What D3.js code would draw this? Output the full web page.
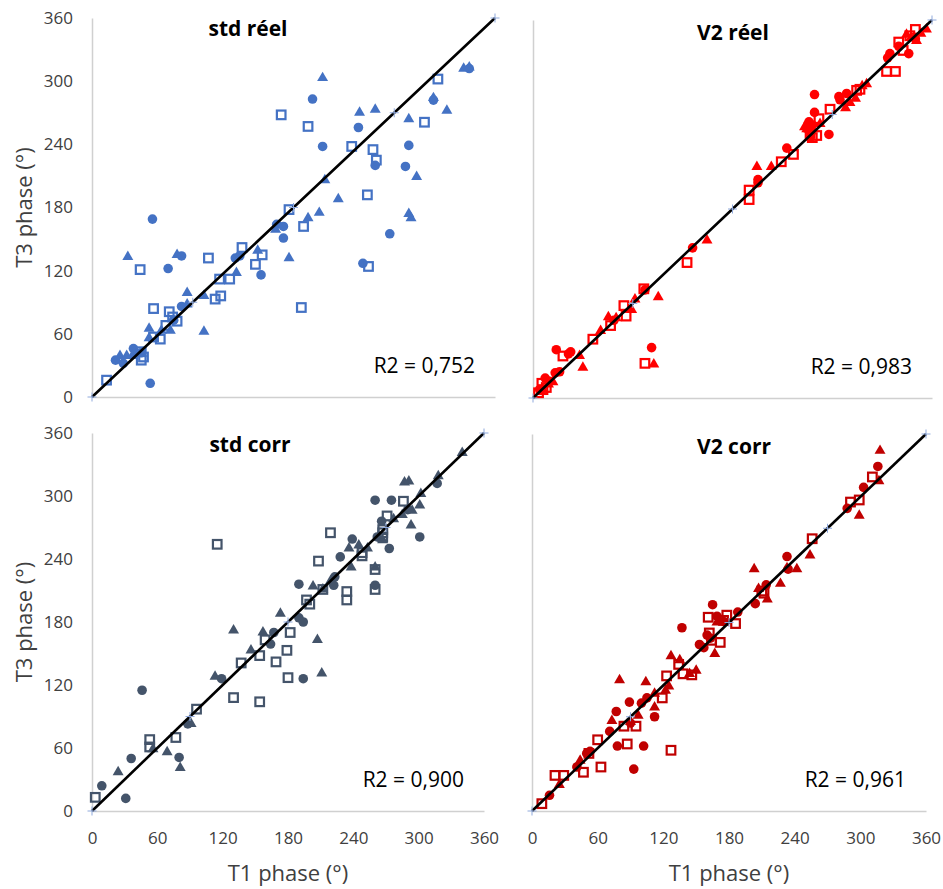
<!DOCTYPE html>
<html>
<head>
<meta charset="utf-8">
<script src="https://cdn.jsdelivr.net/npm/d3@7"></script>
<style>
  html, body { margin: 0; padding: 0; background: #ffffff; }
  svg { display: block; font-family: "Open Sans", "Liberation Sans", sans-serif; }
</style>
</head>
<body>
<svg id="chart" width="943" height="889"></svg>
<script>
// ---------------- DATA ----------------
const tickValues = [0, 60, 120, 180, 240, 300, 360];
const identityPoints = [0, 90, 180, 270, 360];
const panelTitles = ["std réel", "V2 réel", "std corr", "V2 corr"];
const r2Labels = ["R2 = 0,752", "R2 = 0,983", "R2 = 0,900", "R2 = 0,961"];
const xAxisTitle = "T1 phase (°)";
const yAxisTitle = "T3 phase (°)";

// std réel : [T1, T3]
const stdReelCircles = [[337,312],[197,283],[238,256],[206,238],[283,239],[305,282],[253,220],[280,219],[266,155],[242,127],[54,169],[68,122],[80,134],[165,164],[171,162],[171,151],[151,116],[128,132],[132,134],[80,86],[37,46],[21,35],[28,32],[44,42],[52,13],[73,73]];
const stdReelTriangles = [[332,313],[337,314],[206,304],[239,271],[253,274],[283,265],[317,273],[305,285],[290,210],[208,207],[220,189],[193,171],[203,176],[283,175],[285,171],[176,133],[164,160],[148,140],[32,134],[76,136],[129,119],[85,100],[100,97],[100,63],[85,89],[51,66],[70,64],[51,57],[25,40],[31,40],[62,64],[36,40],[40,43]];
const stdReelSquares = [[309,302],[169,268],[193,257],[297,261],[232,238],[251,235],[254,225],[246,192],[176,178],[189,162],[187,85],[247,124],[134,142],[152,135],[146,126],[104,132],[43,121],[114,112],[123,112],[110,93],[115,96],[55,84],[69,81],[76,72],[66,68],[61,55],[55,57],[44,35],[44,43],[13,16],[46,38],[72,76]];

// V2 réel
const v2ReelCircles = [[254,289],[276,287],[283,290],[254,272],[249,263],[267,251],[250,248],[229,238],[203,208],[144,143],[101,103],[107,48],[21,46],[34,44],[20,24],[11,19],[6,8],[320,324],[339,328],[322,328],[73,74],[277,284],[249,255],[252,260],[330,335],[345,342],[203,205],[32,42],[24,25],[15,16]];
const v2ReelTriangles = [[355,352],[337,347],[346,341],[301,300],[282,277],[291,286],[247,257],[259,262],[202,221],[215,221],[157,151],[113,97],[92,95],[89,85],[68,78],[61,65],[42,41],[45,30],[109,33],[14,14],[350,348],[341,344],[297,298],[286,282],[245,259],[75,77],[9,9],[18,16]];
const v2ReelSquares = [[345,351],[330,339],[319,311],[327,311],[295,294],[292,293],[268,275],[258,266],[249,258],[256,250],[235,232],[224,225],[195,198],[195,189],[139,129],[100,104],[82,88],[84,78],[70,69],[54,56],[27,40],[101,33],[8,14],[9,8],[334,331],[340,345],[250,252],[252,248],[5,5],[12,10]];

// std corr
const stdCorrCircles = [[317,312],[260,296],[275,296],[301,261],[273,250],[239,259],[266,276],[228,242],[190,216],[222,215],[223,223],[194,126],[260,215],[190,184],[194,180],[167,170],[164,159],[119,126],[46,115],[36,50],[80,51],[88,83],[9,24],[31,12],[290,287],[262,261]];
const stdCorrTriangles = [[340,342],[318,320],[287,314],[291,315],[302,303],[301,292],[293,273],[294,287],[236,251],[245,254],[253,251],[238,233],[260,233],[203,215],[219,220],[212,212],[173,189],[157,171],[130,173],[146,154],[207,164],[211,132],[113,129],[91,84],[69,57],[56,60],[24,38],[81,42],[277,279],[285,283],[267,259]];
const stdCorrSquares = [[286,295],[271,281],[267,268],[267,261],[219,265],[248,243],[208,238],[260,230],[260,211],[234,209],[234,201],[212,211],[197,201],[200,197],[182,170],[179,153],[159,163],[154,148],[169,142],[180,127],[137,141],[130,108],[154,104],[115,254],[96,97],[77,70],[53,68],[53,61],[3,13],[267,265],[248,246]];

// V2 corr
const v2CorrCircles = [[316,329],[303,309],[288,289],[233,243],[234,231],[204,198],[214,216],[165,197],[188,190],[169,186],[137,175],[153,159],[157,156],[163,165],[89,104],[105,108],[100,103],[112,90],[77,95],[71,76],[78,62],[102,62],[93,40],[50,55],[53,57],[16,15],[41,42],[90,84],[175,181],[160,168]];
const v2CorrTriangles = [[318,345],[317,316],[299,283],[254,245],[203,232],[242,232],[227,218],[215,203],[207,213],[233,233],[167,151],[169,181],[127,149],[135,145],[150,135],[144,132],[80,126],[104,124],[125,120],[112,100],[112,113],[97,92],[73,87],[44,49],[25,26],[122,116],[90,86]];
const v2CorrSquares = [[311,319],[291,295],[299,297],[256,260],[210,210],[161,185],[178,187],[186,179],[172,161],[164,163],[162,170],[138,131],[146,130],[134,140],[123,129],[119,108],[95,81],[84,81],[60,68],[87,64],[127,58],[63,42],[47,37],[52,55],[21,34],[29,34],[9,7],[175,182],[212,208]];

// ---------------- LAYOUT ----------------
const panels = [
  {title: panelTitles[0], r2: r2Labels[0], color: "#4472C4", circles: stdReelCircles, triangles: stdReelTriangles, squares: stdReelSquares,
   x0: 92, x1: 495, y0: 397, y1: 18, showXLabels: false, showYLabels: true, titleX: 248, titleY: 36},
  {title: panelTitles[1], r2: r2Labels[1], color: "#FF0000", circles: v2ReelCircles, triangles: v2ReelTriangles, squares: v2ReelSquares,
   x0: 533, x1: 932, y0: 398, y1: 20, showXLabels: false, showYLabels: false, titleX: 733, titleY: 40},
  {title: panelTitles[2], r2: r2Labels[2], color: "#44546A", circles: stdCorrCircles, triangles: stdCorrTriangles, squares: stdCorrSquares,
   x0: 92, x1: 484, y0: 811, y1: 433, showXLabels: true, showYLabels: true, titleX: 250, titleY: 452},
  {title: panelTitles[3], r2: r2Labels[3], color: "#C00000", circles: v2CorrCircles, triangles: v2CorrTriangles, squares: v2CorrSquares,
   x0: 532, x1: 926, y0: 811, y1: 434, showXLabels: true, showYLabels: false, titleX: 734, titleY: 454}
];

const svg = d3.select("#chart");
const axisColor = "#d0d0d0";
const textColor = "#404040";

panels.forEach(p => {
  const x = d3.scaleLinear().domain([0, 360]).range([p.x0, p.x1]);
  const y = d3.scaleLinear().domain([0, 360]).range([p.y0, p.y1]);
  const g = svg.append("g");

  // axes
  const xAxis = d3.axisBottom(x).tickValues(tickValues).tickSize(0).tickSizeOuter(0).tickPadding(21)
    .tickFormat(p.showXLabels ? d3.format("d") : () => "");
  const yAxis = d3.axisLeft(y).tickValues(tickValues).tickSize(0).tickSizeOuter(0).tickPadding(19)
    .tickFormat(p.showYLabels ? d3.format("d") : () => "");

  const gx = g.append("g").attr("transform", `translate(0,${p.y0})`).call(xAxis);
  const gy = g.append("g").attr("transform", `translate(${p.x0},0)`).call(yAxis);
  [gx, gy].forEach(a => {
    a.select(".domain").attr("stroke", axisColor).attr("stroke-width", 1.5);
    a.selectAll("text").attr("fill", textColor).style("font-size", "17px")
      .style("font-family", '"Open Sans", sans-serif');
  });

  // markers
  const mg = g.append("g");
  mg.selectAll("circle.pt").data(p.circles).enter().append("circle")
    .attr("class", "pt")
    .attr("cx", d => x(d[0])).attr("cy", d => y(d[1])).attr("r", 4.8)
    .attr("fill", p.color);
  mg.selectAll("path.tri").data(p.triangles).enter().append("path")
    .attr("class", "tri")
    .attr("d", d3.symbol().type(d3.symbolTriangle).size(52))
    .attr("transform", d => `translate(${x(d[0])},${y(d[1]) + 1})`)
    .attr("fill", p.color);
  mg.selectAll("rect.sq").data(p.squares).enter().append("rect")
    .attr("class", "sq")
    .attr("x", d => x(d[0]) - 4.3).attr("y", d => y(d[1]) - 4.3)
    .attr("width", 8.6).attr("height", 8.6)
    .attr("fill", "none").attr("stroke", p.color).attr("stroke-width", 2.2);

  // identity line
  const line = d3.line().x(d => x(d)).y(d => y(d));
  g.append("path").datum(identityPoints).attr("d", line)
    .attr("fill", "none").attr("stroke", "#000").attr("stroke-width", 2.6);
  g.selectAll("path.plus").data(identityPoints).enter().append("path")
    .attr("class", "plus")
    .attr("d", "M-4.5,0H4.5M0,-4.5V4.5")
    .attr("transform", d => `translate(${x(d)},${y(d)})`)
    .attr("stroke", "#8FA9DC").attr("stroke-width", 1);

  // title
  g.append("text").attr("x", p.titleX).attr("y", p.titleY)
    .attr("text-anchor", "middle").attr("fill", "#000")
    .style("font-size", "21px").style("font-weight", "bold")
    .text(p.title);

  // R2
  g.append("text").attr("x", p.x1 - 20).attr("y", p.y0 - 24)
    .attr("text-anchor", "end").attr("fill", "#000")
    .style("font-size", "21px")
    .text(p.r2);

  // axis titles
  if (p.showYLabels) {
    g.append("text")
      .attr("transform", `translate(32,${(p.y0 + p.y1) / 2}) rotate(-90)`)
      .attr("text-anchor", "middle").attr("fill", textColor)
      .style("font-size", "22px")
      .text(yAxisTitle);
  }
  if (p.showXLabels) {
    g.append("text")
      .attr("x", (p.x0 + p.x1) / 2).attr("y", 881)
      .attr("text-anchor", "middle").attr("fill", textColor)
      .style("font-size", "22px")
      .text(xAxisTitle);
  }
});
</script>
</body>
</html>
